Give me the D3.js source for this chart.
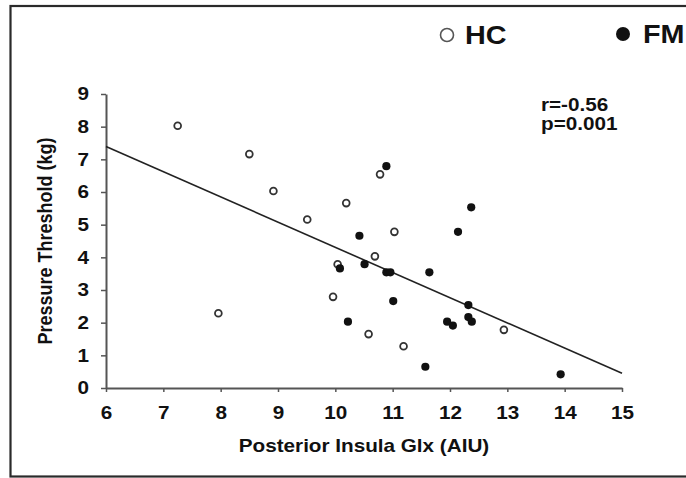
<!DOCTYPE html>
<html><head><meta charset="utf-8">
<script src="https://cdn.jsdelivr.net/npm/d3@7"></script>
<style>body{margin:0;background:#fff}svg{display:block}</style>
</head><body>
<script>
// Healthy controls (open circles)
const hcX = [7.25, 8.50, 8.92, 9.51, 10.19, 10.78, 11.03, 10.69, 10.04, 9.96, 7.96, 10.58, 12.94, 11.19];
const hcY = [8.03, 7.16, 6.03, 5.16, 5.66, 6.54, 4.78, 4.03, 3.79, 2.79, 2.29, 1.65, 1.78, 1.28];
// Fibromyalgia (filled circles)
const fmX = [10.89, 12.37, 10.42, 12.14, 10.08, 10.51, 10.89, 10.96, 11.64, 11.01, 12.32, 10.22, 11.95, 12.05, 12.32, 12.38, 11.57, 13.93];
const fmY = [6.79, 5.53, 4.66, 4.78, 3.66, 3.79, 3.54, 3.54, 3.54, 2.66, 2.54, 2.03, 2.03, 1.91, 2.17, 2.03, 0.65, 0.42];
// Regression line end points
const fitX = [6, 15];
const fitY = [7.39, 0.45];
const xTicks = [6, 7, 8, 9, 10, 11, 12, 13, 14, 15];
const yTicks = [0, 1, 2, 3, 4, 5, 6, 7, 8, 9];
const legendLabels = ["HC", "FM"];
const statLines = ["r=-0.56", "p=0.001"];
const xTitle = "Posterior Insula Glx (AIU)";
const yTitle = "Pressure Threshold (kg)";

const W = 686, H = 478;
const FONT = "'Liberation Sans', Arial, Helvetica, sans-serif";
const SX = 1.15; // horizontal stretch of the text in the reference
const svg = d3.select("body").append("svg").attr("width", W).attr("height", H)
  .style("font-family", FONT);
svg.append("rect").attr("width", W).attr("height", H).attr("fill", "#fff");

// frame (cropped on the right)
svg.append("rect").attr("x", 10.5).attr("y", 6).attr("width", 720).attr("height", 470.5)
  .attr("fill", "none").attr("stroke", "#2a2a2a").attr("stroke-width", 2.2);

const x = d3.scaleLinear().domain([6, 15]).range([106, 622]);
const y = d3.scaleLinear().domain([0, 9]).range([388, 94]);

const axisColor = "#555";
const gx = svg.append("g").attr("transform", `translate(0,${y(0)})`)
  .call(d3.axisBottom(x).tickValues(xTicks).tickSize(4).tickSizeOuter(0).tickPadding(14).tickFormat(d3.format("d")));
const gy = svg.append("g").attr("transform", `translate(${x(6)},0)`)
  .call(d3.axisLeft(y).tickValues(yTicks).tickSize(5).tickSizeOuter(0).tickPadding(12).tickFormat(d3.format("d")));
[gx, gy].forEach(g => {
  g.select(".domain").attr("stroke", axisColor).attr("stroke-width", 2);
  g.selectAll(".tick line").attr("stroke", axisColor).attr("stroke-width", 1.5);
  g.selectAll(".tick text").attr("fill", "#111").attr("font-size", 18).attr("font-weight", "bold")
    .attr("font-family", FONT);
});
gx.selectAll(".tick text").each(function() {
  const t = d3.select(this), yy = +t.attr("y");
  t.attr("y", 0).attr("transform", `translate(0,${yy}) scale(${SX},1)`);
});
gy.selectAll(".tick text").each(function() {
  const t = d3.select(this), xx = +t.attr("x");
  t.attr("x", 0).attr("transform", `translate(${xx},0) scale(${SX},1)`);
});

function stretchedText(px, py, str, size, anchor) {
  return svg.append("text").attr("transform", `translate(${px},${py}) scale(${SX},1)`)
    .attr("text-anchor", anchor || "start").attr("font-size", size).attr("font-weight", "bold")
    .attr("fill", "#111").text(str);
}

// axis titles
stretchedText((x(6) + x(15)) / 2, 452, xTitle, 18, "middle");
svg.append("text").attr("transform", `translate(52,${(y(0) + y(9)) / 2}) rotate(-90) scale(1,1.1)`)
  .attr("text-anchor", "middle").attr("font-size", 18).attr("font-weight", "bold").attr("fill", "#111").text(yTitle);

// regression line
svg.append("line").attr("x1", x(fitX[0])).attr("y1", y(fitY[0])).attr("x2", x(fitX[1])).attr("y2", y(fitY[1]))
  .attr("stroke", "#222").attr("stroke-width", 1.6);

// points
svg.append("g").selectAll("circle").data(hcX.map((v, i) => [v, hcY[i]])).join("circle")
  .attr("cx", d => x(d[0])).attr("cy", d => y(d[1])).attr("r", 3.4)
  .attr("fill", "#fff").attr("stroke", "#333").attr("stroke-width", 1.8);
svg.append("g").selectAll("circle").data(fmX.map((v, i) => [v, fmY[i]])).join("circle")
  .attr("cx", d => x(d[0])).attr("cy", d => y(d[1])).attr("r", 4.1)
  .attr("fill", "#111");

// stats
statLines.forEach((s, i) => stretchedText(541, 111 + i * 19, s, 18));

// legend
const leg = svg.append("g");
leg.append("circle").attr("cx", 447).attr("cy", 35).attr("r", 6.5).attr("fill", "#fff").attr("stroke", "#555").attr("stroke-width", 1.6);
stretchedText(465, 44, legendLabels[0], 25);
leg.append("circle").attr("cx", 623).attr("cy", 34).attr("r", 7).attr("fill", "#111");
stretchedText(643, 43, legendLabels[1], 25);
</script>
</body></html>
